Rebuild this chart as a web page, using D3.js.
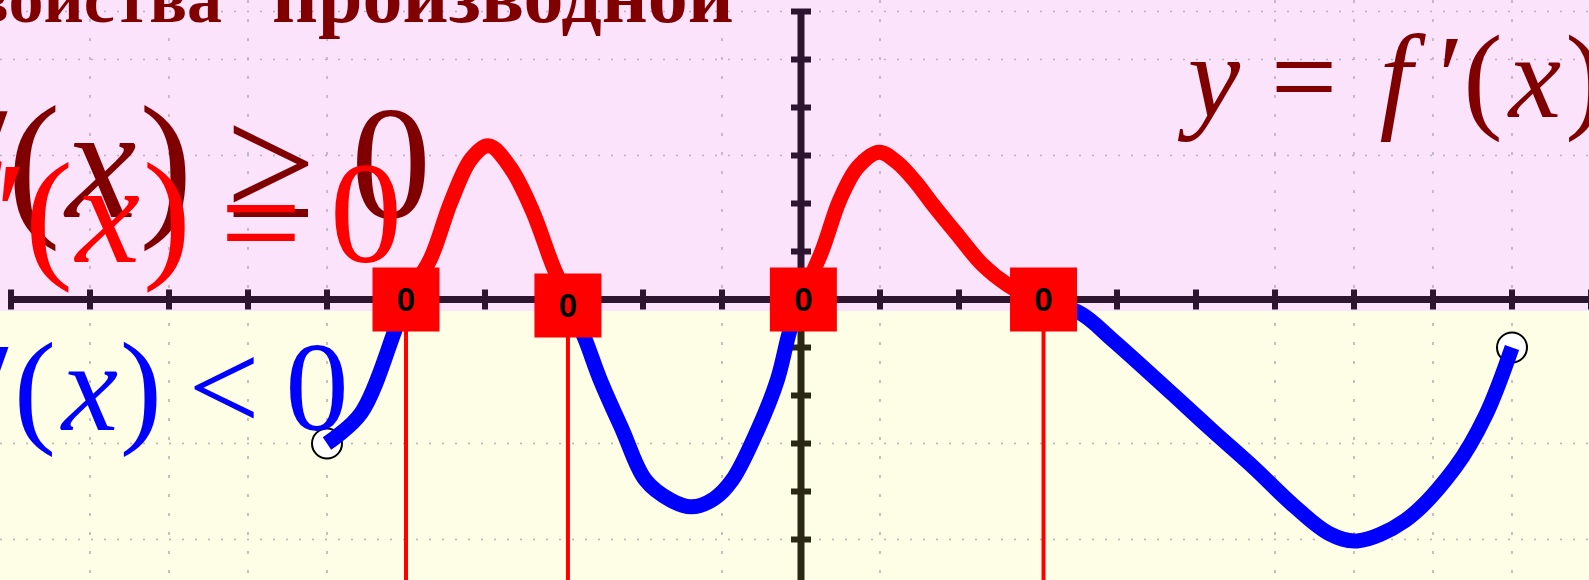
<!DOCTYPE html>
<html>
<head>
<meta charset="utf-8">
<script src="https://cdn.jsdelivr.net/npm/d3@7"></script>
<style>
  html, body { margin: 0; padding: 0; overflow: hidden; }
  svg { display: block; }
</style>
</head>
<body>
<svg id="chart" width="1589" height="580"></svg>
<script>
// curve of y = f'(x) (x, y in axis units)
const curveX = [-6, -5.57, -5.14, -5.0, -4.69, -4.43, -4.17, -3.95, -3.68, -3.4, -3.14, -2.95, -2.73, -2.54, -2.26, -1.97, -1.65, -1.39, -1.1, -0.87, -0.55, -0.3, -0.14, 0,
  0.27, 0.49, 0.72, 0.99, 1.22, 1.45, 1.65, 1.96, 2.3, 2.62, 2.85, 3.07, 3.55, 3.95, 4.71, 5.22, 5.73, 6.24, 6.69, 7.04, 7.65, 8.28, 8.67, 9.0];
const curveY = [-3, -2.37, -0.64, 0, 0.85, 2.04, 2.94, 3.2, 2.75, 1.85, 0.7, 0, -0.84, -1.68, -2.72, -3.76, -4.18, -4.32, -4.15, -3.76, -2.72, -1.68, -0.64, 0,
  1.03, 2.07, 2.76, 3.07, 2.85, 2.45, 2.02, 1.39, 0.72, 0.3, 0.1, 0, -0.3, -0.85, -1.98, -2.75, -3.5, -4.3, -4.88, -5.03, -4.6, -3.5, -2.4, -1.0];

// open ends of the curve
const endX = [-6, 9];
const endY = [-3, -1];

// zeros of f'(x), marked with a "0" box
const zeroX = [-5, -2.95, 0.03, 3.07];
const zeroLabel = ['0', '0', '0', '0'];

const xTicks = d3.range(-10, 11).filter(v => v !== 0);
const yTicks = [-6, -5, -4, -3, -2, -1, 1, 2, 3, 4, 5, 6];
const gridX = [-9, -8, -7, -6, -1, 1, 6, 7, 8, 9];
const gridY = [6, 5, 3, -3, -5];

const titleWords = ['Свойства', 'производной'];
const formulaRight = ['y', '=', 'f', '′', '(', 'x', ')'];
const formulaGe = ['f', '′', '(', 'x', ')', '≥', '0'];
const formulaEq = ['f', '′', '(', 'x', ')', '=', '0'];
const formulaLt = ['f', '′', '(', 'x', ')', '<', '0'];

const W = 1589;
const H = 580;
const SERIF = '"Liberation Serif", "Times New Roman", serif';

const svg = d3.select('#chart');

const x = d3.scaleLinear().domain([-10, 10]).range([11, 1591]);
const y = d3.scaleLinear().domain([-6, 6]).range([587.5, 11.5]);
const y0 = y(0);

// backgrounds
svg.append('rect').attr('x', 0).attr('y', 0).attr('width', W).attr('height', y0 + 11.5).attr('fill', '#fce3fc');
svg.append('rect').attr('x', 0).attr('y', y0 + 11.5).attr('width', W).attr('height', H - y0 - 11.5).attr('fill', '#fefee6');

// dotted grid
const grid = svg.append('g').attr('class', 'grid')
  .attr('stroke', '#b9b0b9').attr('stroke-width', 1.6);
grid.selectAll('line.gx')
  .data(gridX)
  .join('line')
  .attr('class', 'gx')
  .attr('x1', d => x(d)).attr('x2', d => x(d))
  .attr('y1', 0).attr('y2', H)
  .attr('stroke-dasharray', '3,16');
grid.selectAll('line.gy')
  .data(gridY)
  .join('line')
  .attr('class', 'gy')
  .attr('x1', 0).attr('x2', W)
  .attr('y1', d => y(d)).attr('y2', d => y(d))
  .attr('stroke-dasharray', '2,11');

// axes
const axes = svg.append('g').attr('class', 'axes');
axes.append('line')
  .attr('x1', x(-10)).attr('x2', W)
  .attr('y1', y0).attr('y2', y0)
  .attr('stroke', '#2d1530').attr('stroke-width', 7);
axes.selectAll('rect.xtick')
  .data(xTicks)
  .join('rect')
  .attr('class', 'xtick')
  .attr('x', d => x(d) - 3)
  .attr('y', y0 - 10)
  .attr('width', 6)
  .attr('height', 20)
  .attr('fill', '#2d1530');
axes.append('line')
  .attr('x1', x(0)).attr('x2', x(0))
  .attr('y1', y(6)).attr('y2', y0)
  .attr('stroke', '#2d1530').attr('stroke-width', 7);
axes.append('line')
  .attr('x1', x(0)).attr('x2', x(0))
  .attr('y1', y0).attr('y2', H)
  .attr('stroke', '#2a2814').attr('stroke-width', 7);
axes.selectAll('rect.ytick')
  .data(yTicks)
  .join('rect')
  .attr('class', 'ytick')
  .attr('x', x(0) - 10)
  .attr('y', d => y(d) - 3)
  .attr('width', 20)
  .attr('height', 6)
  .attr('fill', d => d > 0 ? '#2d1530' : '#2a2814');

// clip the curve at the x-axis: red above, blue below
const defs = svg.append('defs');
defs.append('clipPath').attr('id', 'clip-pos')
  .append('rect').attr('x', 0).attr('y', 0).attr('width', W).attr('height', y0);
defs.append('clipPath').attr('id', 'clip-neg')
  .append('rect').attr('x', 0).attr('y', y0).attr('width', W).attr('height', H - y0);

// vertical markers under the zeros
const boxW = 67;
const boxH = 64;
const boxDy = [0, 6, 0, 0];
svg.append('g').attr('class', 'zero-lines')
  .selectAll('line')
  .data(zeroX.map((z, i) => ({ z, dy: boxDy[i] })).filter(d => Math.abs(d.z) > 0.5))
  .join('line')
  .attr('x1', d => x(d.z)).attr('x2', d => x(d.z))
  .attr('y1', d => y0 + d.dy)
  .attr('y2', H)
  .attr('stroke', '#ff0000')
  .attr('stroke-width', 4);

// open circles at the ends
svg.append('g').attr('class', 'ends')
  .selectAll('circle')
  .data(endX.map((v, i) => [v, endY[i]]))
  .join('circle')
  .attr('cx', d => x(d[0]))
  .attr('cy', d => y(d[1]))
  .attr('r', 15)
  .attr('fill', '#ffffff')
  .attr('stroke', '#000000')
  .attr('stroke-width', 2);

const line = d3.line()
  .x(d => x(d[0]))
  .y(d => y(d[1]))
  .curve(d3.curveCatmullRom.alpha(0.5));
const pts = curveX.map((v, i) => [v, curveY[i]]);

svg.append('path')
  .datum(pts)
  .attr('d', line)
  .attr('fill', 'none')
  .attr('stroke', '#ff0000')
  .attr('stroke-width', 15)
  .attr('stroke-linejoin', 'round')
  .attr('clip-path', 'url(#clip-pos)');
svg.append('path')
  .datum(pts)
  .attr('d', line)
  .attr('fill', 'none')
  .attr('stroke', '#0000ff')
  .attr('stroke-width', 15)
  .attr('stroke-linejoin', 'round')
  .attr('clip-path', 'url(#clip-neg)');

// "0" boxes
const boxes = svg.append('g').attr('class', 'zero-boxes')
  .selectAll('g')
  .data(zeroX.map((z, i) => ({ z, label: zeroLabel[i], dy: boxDy[i] })))
  .join('g')
  .attr('transform', d => `translate(${x(d.z)},${y0 + d.dy})`);
boxes.append('rect')
  .attr('x', -boxW / 2).attr('y', -boxH / 2)
  .attr('width', boxW).attr('height', boxH)
  .attr('fill', '#ff0000');
boxes.append('text')
  .attr('text-anchor', 'middle')
  .attr('y', 11)
  .attr('font-family', '"Liberation Sans", Arial, sans-serif')
  .attr('font-weight', 'bold')
  .attr('font-size', 33)
  .attr('fill', '#000000')
  .text(d => d.label);

// title (cut by the top edge)
svg.append('g').attr('class', 'title')
  .selectAll('text')
  .data(titleWords)
  .join('text')
  .attr('x', (d, i) => i === 0 ? 222 : 272)
  .attr('y', 22)
  .attr('text-anchor', (d, i) => i === 0 ? 'end' : 'start')
  .attr('font-family', SERIF)
  .attr('font-weight', 'bold')
  .attr('font-size', (d, i) => i === 0 ? 70 : 80)
  .attr('fill', '#800000')
  .text(d => d);

// formulas, glyph by glyph
function formula(glyphs, centers, baseline, size, color, dys) {
  const italic = new Set(['f', 'x', 'y']);
  svg.append('g')
    .selectAll('text')
    .data(glyphs.map((g, i) => ({ g, cx: centers[i], dy: dys ? dys[i] : 0 })))
    .join('text')
    .attr('x', d => d.cx)
    .attr('y', d => baseline + d.dy)
    .attr('text-anchor', 'middle')
    .attr('font-family', SERIF)
    .attr('font-style', d => italic.has(d.g) ? 'italic' : 'normal')
    .attr('font-size', size)
    .attr('fill', color)
    .text(d => d.g);
}

formula(formulaRight, [1214, 1304, 1396, 1451, 1483, 1535, 1585], 117, 118, '#800000');
formula(formulaGe, [-45, -2, 34, 101, 166, 271, 391], 217, 160, '#800000');
formula(formulaEq, [-35, 11, 49, 108, 167, 261, 366], 262, 145, '#ff0000', [0, 0, 0, 0, 0, 9, 0]);
formula(formulaLt, [-38, 1, 35, 90, 141, 224, 317], 430, 127, '#0000ff');
</script>
</body>
</html>
